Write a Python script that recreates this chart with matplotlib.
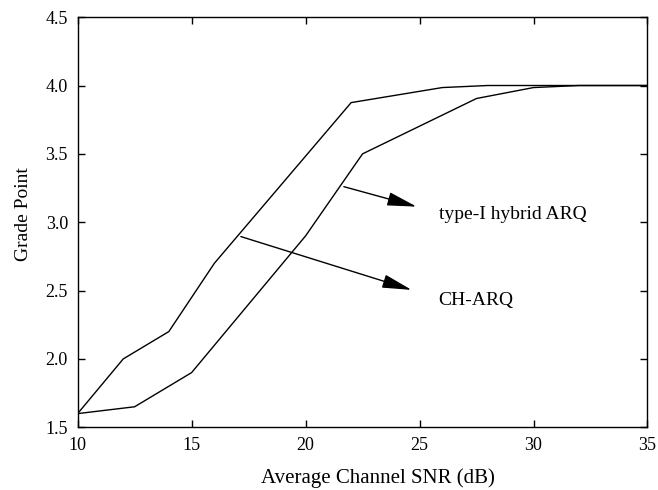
import matplotlib
matplotlib.use("Agg")
import matplotlib.pyplot as plt

# Data
snr_ch = [10, 12, 14, 16, 22, 26, 28, 35]
grade_ch = [1.6, 2.0, 2.2, 2.7, 3.875, 3.985, 4.0, 4.0]

snr_hy = [10, 12.5, 15, 20, 22.5, 27.5, 30, 32, 35]
grade_hy = [1.6, 1.65, 1.9, 2.9, 3.5, 3.905, 3.985, 4.0, 4.0]

xticks = [10, 15, 20, 25, 30, 35]
yticks = [1.5, 2.0, 2.5, 3.0, 3.5, 4.0, 4.5]
ytick_labels = ["1.5", "2.0", "2.5", "3.0", "3.5", "4.0", "4.5"]

plt.rcParams['font.family'] = ['Liberation Serif', 'DejaVu Serif']

fig = plt.figure(figsize=(6.58, 4.90), dpi=100)
ax = fig.add_axes([0.118, 0.128, 0.866, 0.837])

ax.plot(snr_ch, grade_ch, color='black', lw=1.0)
ax.plot(snr_hy, grade_hy, color='black', lw=1.0)

ax.set_xlim(10, 35)
ax.set_ylim(1.5, 4.5)
ax.set_xticks(xticks)
ax.set_yticks(yticks)
ax.set_yticklabels(ytick_labels)
ax.tick_params(direction='in', length=5, width=1.0, top=True, right=True,
               labelsize=13, pad=7)
for s in ax.spines.values():
    s.set_linewidth(1.0)

ax.set_xlabel("Average Channel SNR (dB)", fontsize=15)
ax.xaxis.label.set_va('center')
ax.xaxis.set_label_coords(0.527, -0.124)
ax.set_ylabel("Grade Point", fontsize=14)
ax.yaxis.label.set_va('center')
ax.yaxis.set_label_coords(-0.095, 0.52)

ap = dict(arrowstyle='-|>,head_length=1.3,head_width=0.3', mutation_scale=14,
          lw=1.0, color='black', shrinkA=0, shrinkB=0)
ax.annotate("", xy=(24.87, 3.114), xytext=(21.68, 3.26), arrowprops=ap)
ax.annotate("", xy=(24.65, 2.505), xytext=(17.16, 2.895), arrowprops=ap)
ax.text(25.86, 3.06, "type-I hybrid ARQ", fontsize=14, va='center', ha='left')
ax.text(25.82, 2.43, "CH-ARQ", fontsize=14, va='center', ha='left')

fig.savefig("out.png", dpi=100)
